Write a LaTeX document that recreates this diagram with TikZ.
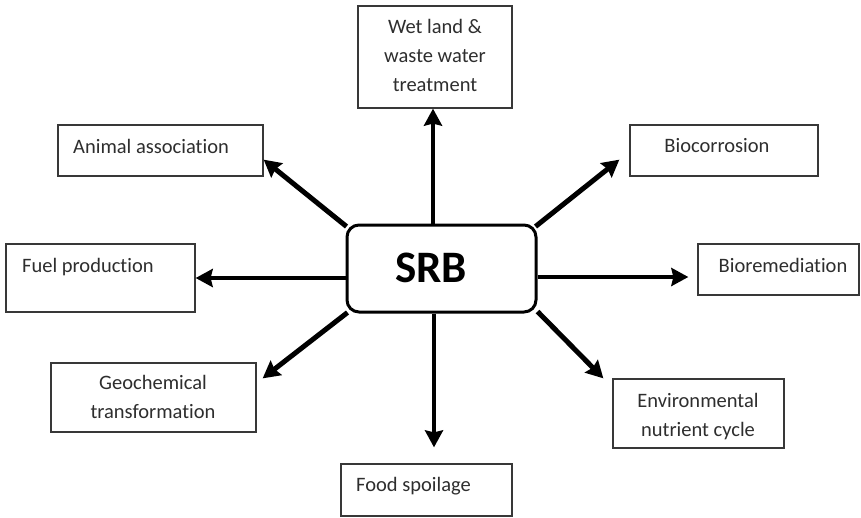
\documentclass[tikz,border=0pt]{standalone}
\usepackage{fontspec}
\setmainfont{Carlito}[Ligatures={NoCommon}]
\usetikzlibrary{arrows.meta,calc}
\begin{document}
\begin{tikzpicture}[x=1pt,y=-1pt,
  boxstyle/.style={draw=black!78,line width=1.3pt,rectangle,inner sep=0pt},
  txt/.style={text=black!82,inner sep=0pt,font=\fontsize{20.5}{29}\selectfont,align=center},
  srbstyle/.style={draw=black,line width=3pt,rounded corners=12pt,rectangle,inner sep=0pt},
  arr/.style={line width=4pt,-{Stealth[length=17pt,width=18pt,inset=2pt]}},
  darr/.style={line width=5pt,-{Stealth[length=17pt,width=18pt,inset=2pt]}}]
\useasboundingbox[fill=white] (0,0) rectangle (861,517);
% boxes
\node[boxstyle,minimum width=154pt,minimum height=102pt] (wet) at (435,57) {};
\node[boxstyle,minimum width=205pt,minimum height=51pt] (anim) at (160.5,150.5) {};
\node[boxstyle,minimum width=189pt,minimum height=68pt] (fuel) at (100.5,278) {};
\node[boxstyle,minimum width=188pt,minimum height=51pt] (bioc) at (724,150.5) {};
\node[boxstyle,minimum width=161pt,minimum height=51pt] (biorem) at (778.5,269.5) {};
\node[boxstyle,minimum width=205pt,minimum height=69pt] (geo) at (153.5,397.5) {};
\node[boxstyle,minimum width=171pt,minimum height=52pt] (food) at (426.5,490) {};
\node[boxstyle,minimum width=171pt,minimum height=69pt] (env) at (698.5,413.5) {};
\node[srbstyle,minimum width=189pt,minimum height=87pt] (srb) at (441.5,268.5) {};
% texts (base anchor = last line's baseline)
\node[txt,anchor=base] (twet) at (435,91) {Wet land \&\\waste water\\treatment};
\node[txt,anchor=base west] (tanim) at (73,153) {Animal association};
\node[txt,anchor=base west] (tfuel) at (22,272) {Fuel production};
\node[txt,anchor=base] (tbioc) at (717,152.5) {Biocorrosion};
\node[txt,anchor=base] (tbiorem) at (783,272) {Bioremediation};
\node[txt,anchor=base] (tgeo) at (153,418) {Geochemical\\transformation};
\node[txt,anchor=base west] (tfood) at (356,491) {Food spoilage};
\node[txt,anchor=base] (tenv) at (698,436) {Environmental\\nutrient cycle};
\node[inner sep=0pt,font=\fontsize{45}{50}\selectfont\bfseries,anchor=base] (tsrb) at (431,282) {SRB};
% arrows
\draw[arr] ([xshift=-8.5pt]srb.north) -- ([xshift=-2pt]wet.south);
\draw[darr] ([shift={(1,3)}]srb.north west) -- ([shift={(0,-17)}]anim.south east);
\draw[arr] ([shift={(0,9.5)}]srb.west) -- (fuel.east);
\draw[darr] ([shift={(-2,3)}]srb.north east) -- ([shift={(-10,-17)}]bioc.south west);
\draw[arr] ([shift={(0,8.5)}]srb.east) -- ([shift={(-9,7.5)}]biorem.west);
\draw[darr] ([shift={(2,-1)}]srb.south west) -- ([shift={(6,16)}]geo.north east);
\draw[arr] ([shift={(-7.5,0)}]srb.south) -- ([shift={(7.5,-16)}]food.north);
\draw[darr] ([shift={(0,-2)}]srb.south east) -- ([shift={(-9,0)}]env.north west);
\end{tikzpicture}
\end{document}
